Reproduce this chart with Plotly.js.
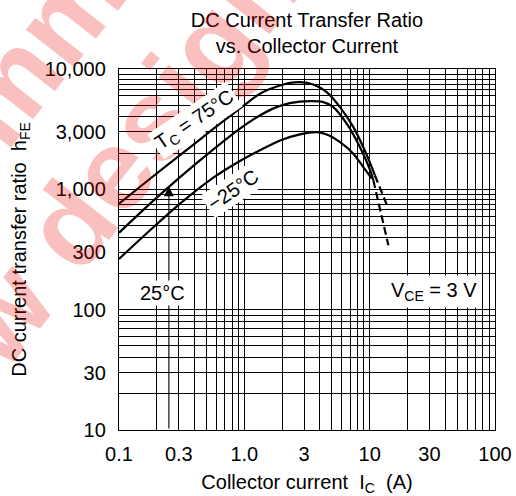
<!DOCTYPE html>
<html>
<head>
<meta charset="utf-8">
<script src="https://cdn.plot.ly/plotly-3.0.1.min.js"></script>
<style>html,body{margin:0;padding:0;background:#fff;}#chart{width:516px;height:496px;}</style>
</head>
<body>
<div id="chart"></div>
<script>
// ---- data ----
const ic75  = [0.1, 0.178, 0.316, 0.562, 1.0, 1.33, 2.05, 2.70, 3.55, 4.54, 5.80, 7.41, 8.90, 10.4, 11.0];
const hfe75 = [760, 1230, 1970, 3160, 5000, 6230, 7430, 7780, 7430, 6430, 4820, 3290, 2240, 1530, 1310];
const ic75d  = [11.0, 14.1];
const hfe75d = [1310, 690];

const ic25  = [0.1, 0.177, 0.307, 0.566, 0.923, 1.33, 1.81, 2.31, 3.34, 4.27, 5.13, 6.56, 8.37, 10.1, 10.7];
const hfe25 = [435, 760, 1265, 2150, 3200, 4110, 4820, 5200, 5400, 5300, 4820, 3510, 2240, 1440, 1190];

const icm25  = [0.1, 0.177, 0.307, 0.566, 0.923, 1.33, 1.93, 2.78, 3.78, 4.54, 5.80, 7.41, 8.90, 10.4];
const hfem25 = [264, 457, 760, 1250, 1720, 2110, 2550, 2860, 2990, 2860, 2470, 1980, 1530, 1230];
const icm25d  = [10.7, 14.1];
const hfem25d = [1190, 343];

const xTickVals = [0.1, 0.3, 1, 3, 10, 30, 100];
const xTickText = ['0.1', '0.3', '1.0', '3', '10', '30', '100'];
const yTickVals = [10, 30, 100, 300, 1000, 3000, 10000];
const yTickText = ['10', '30', '100', '300', '1,000', '3,000', '10,000'];
const xMinor = [0.2, 0.4, 0.5, 0.6, 0.7, 0.8, 0.9, 2, 4, 5, 6, 7, 8, 9, 20, 40, 50, 60, 70, 80, 90];
const yMinor = [20, 40, 50, 60, 70, 80, 90, 200, 400, 500, 600, 680, 750, 820, 900, 2000, 4000, 5000, 6000, 6800, 7500, 8200, 9000];

const arrowIc = 0.25, arrowHfeTip = 1060, arrowHfeTail = 10;
// watermark words (two diagonal lines: "Not recommended" / "for new designs")
const watermarkWords = ['Not', 'recommended', 'for new', 'designs'];
const watermarkPos = [[-0.992, 0.0249], [-0.1388, 1.1604], [-0.5745, -0.0249], [0.1689, 0.9654]];

const lg = Math.log10;
const FONT = 'Liberation Sans, Arial, Helvetica, sans-serif';

function curve(x, y, dash) {
  return {x: x, y: y, type: 'scatter', mode: 'lines', hoverinfo: 'skip',
    line: {color: '#000', width: 2.2, shape: 'spline', smoothing: 0.8, dash: dash || 'solid'}};
}

const traces = [
  curve(ic75, hfe75), curve(ic75d, hfe75d, '8px,4px'),
  curve(ic25, hfe25),
  curve(icm25, hfem25), curve(icm25d, hfem25d, '8px,4px')
];

function wm(text, pos) {
  return {x: pos[0], y: pos[1], xref: 'paper', yref: 'paper', text: text, showarrow: false, textangle: -52,
    xanchor: 'center', yanchor: 'middle',
    font: {family: FONT, size: 115, color: 'rgba(235,0,0,0.25)', weight: 'bold'}};
}

const axisCommon = {
  type: 'log', showgrid: true, gridcolor: '#000', gridwidth: 1,
  showline: true, mirror: true, linecolor: '#000', linewidth: 1.2,
  ticks: '', zeroline: false, tickmode: 'array',
  tickfont: {family: FONT, size: 20, color: '#000'}
};

const layout = {
  width: 516, height: 496,
  margin: {l: 119, r: 21, t: 69, b: 66, pad: 0},
  paper_bgcolor: '#fff', plot_bgcolor: '#fff',
  showlegend: false,
  font: {family: FONT, size: 20, color: '#000'},
  title: {text: 'DC Current Transfer Ratio<br>vs. Collector Current',
    x: 0.5, xref: 'paper', xanchor: 'center', y: 0.9455, yref: 'container', yanchor: 'top',
    font: {family: FONT, size: 20, color: '#000'}},
  xaxis: Object.assign({}, axisCommon, {
    range: [-1, 2], tickvals: xTickVals, ticktext: xTickText, ticklabelstandoff: 6,
    minor: {tickmode: 'array', tickvals: xMinor, showgrid: true, gridcolor: '#000', gridwidth: 1, ticks: ''},
    title: {text: 'Collector current\u00a0\u00a0I<sub>C</sub>\u00a0\u00a0(A)', standoff: 14,
      font: {family: FONT, size: 20, color: '#000'}}
  }),
  yaxis: Object.assign({}, axisCommon, {
    range: [1, 4], tickvals: yTickVals, ticktext: yTickText, ticklabelstandoff: 8,
    minor: {tickmode: 'array', tickvals: yMinor, showgrid: true, gridcolor: '#000', gridwidth: 1, ticks: ''},
    title: {text: 'DC current transfer ratio\u00a0\u00a0h<sub>FE</sub>', standoff: 12,
      font: {family: FONT, size: 20, color: '#000'}}
  }),
  annotations: watermarkWords.map((w, i) => wm(w, watermarkPos[i])).concat([
    {x: lg(arrowIc), y: lg(arrowHfeTip), ax: lg(arrowIc), ay: lg(arrowHfeTail), axref: 'x', ayref: 'y',
      xref: 'x', yref: 'y', text: '', showarrow: true, arrowhead: 2, arrowsize: 1.8, arrowwidth: 1.1,
      arrowcolor: '#000', standoff: 0, startstandoff: 0},
    {x: lg(0.222), y: lg(137), xref: 'x', yref: 'y', text: '25°C', showarrow: false,
      bgcolor: '#fff', borderpad: 1, font: {family: FONT, size: 20, color: '#000'}},
    {x: -0.394, y: 3.573, xref: 'x', yref: 'y', text: 'T<sub>C</sub> = 75°C', showarrow: false, textangle: -34,
      bgcolor: '#fff', borderpad: 2, font: {family: FONT, size: 20, color: '#000'}},
    {x: -0.0904, y: 2.992, xref: 'x', yref: 'y', text: '\u221225°C', showarrow: false, textangle: -34,
      bgcolor: '#fff', borderpad: 2, font: {family: FONT, size: 20, color: '#000'}},
    {x: 1.513, y: 2.1535, xref: 'x', yref: 'y', text: 'V<sub>CE</sub> = 3 V', showarrow: false,
      bgcolor: '#fff', borderpad: 3, font: {family: FONT, size: 20, color: '#000'}}
  ])
};

Plotly.newPlot('chart', traces, layout, {staticPlot: true, displayModeBar: false});
</script>
</body>
</html>
